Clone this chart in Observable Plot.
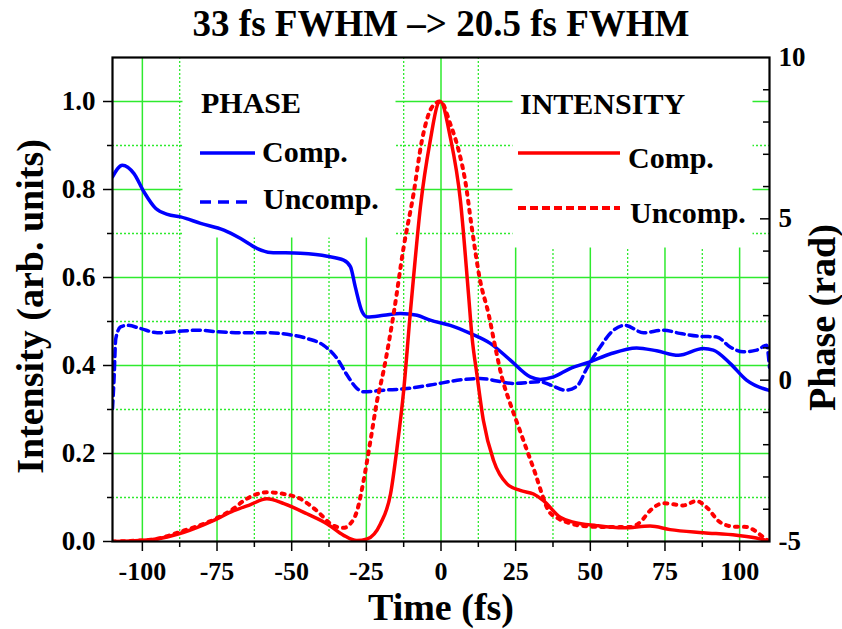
<!DOCTYPE html>
<html><head><meta charset="utf-8">
<script src="https://cdn.jsdelivr.net/npm/d3@7"></script>
<script src="https://cdn.jsdelivr.net/npm/@observablehq/plot@0.6"></script>
<style>html,body{margin:0;padding:0;background:#fff} svg{display:block}</style>
</head><body><div id="chart"></div>
<script>
// ---- data (time in fs, intensity in arb. units, phase in rad) ----
const phaseCompT = [-110,-106.7,-102.8,-99.5,-95.5,-91.6,-87.2,-80.5,-72.7,-67.1,-61.5,-57.1,-47.1,-38.1,-32.6,-30.3,-28.7,-26.4,-24.7,-19.2,-13.6,-8,-3.6,3.1,9.8,16.5,23.2,29.9,33.2,37.7,43.2,49.9,56.6,65.5,72.2,79.5,87.8,91.2,96.8,102.3,109.6,110];
const phaseCompV = [6.3,6.66,6.4,5.84,5.32,5.14,5.06,4.86,4.65,4.39,4.08,3.96,3.93,3.84,3.72,3.51,2.89,2.12,1.96,2.01,2.07,2.01,1.86,1.70,1.45,1.14,0.62,0.10,0.02,0.10,0.36,0.57,0.81,1.00,0.91,0.77,0.98,0.93,0.52,0,-0.31,-0.32];

const phaseUncompT = [-110,-109.5,-108.9,-107.3,-105,-100.6,-95,-89.4,-81.6,-74.9,-66,-58.2,-51.5,-44.8,-39.3,-34.8,-31.4,-28.1,-25.9,-19.2,-11.4,-3.6,7.6,13.1,24.3,33.2,36.6,41.6,45.5,48.8,53.3,57.2,61.6,67.8,74.4,80,86.7,92.3,96.8,101.2,105.7,109,110];
const phaseUncompV = [-0.88,0,1.29,1.65,1.70,1.60,1.47,1.50,1.55,1.50,1.47,1.47,1.42,1.29,1.08,0.67,0.15,-0.26,-0.36,-0.31,-0.26,-0.15,0.02,0.05,-0.10,-0.05,-0.15,-0.31,-0.19,0.36,1.03,1.50,1.70,1.47,1.55,1.45,1.36,1.34,1.03,0.88,0.93,1.08,0.4];

const intCompT = [-110,-97.2,-86.1,-76.1,-69.4,-63.8,-58.3,-52.6,-44.9,-38.1,-32.6,-28.2,-24.7,-20.3,-16.9,-14.7,-12.5,-10.3,-9.2,-6.9,-3.6,-0.8,-0.2,3.1,6.5,9.2,10.4,12,14.2,17.6,22.1,26.5,31,34.3,39.9,44.3,52.1,61.1,70,76.7,87.8,99,106.8,110];
const intCompV = [0,0.004,0.021,0.048,0.07,0.084,0.097,0.086,0.063,0.040,0.014,0.002,0.006,0.04,0.108,0.214,0.343,0.518,0.6,0.76,0.911,0.998,1.0,0.919,0.775,0.563,0.464,0.381,0.275,0.184,0.131,0.116,0.108,0.093,0.055,0.044,0.036,0.031,0.035,0.027,0.020,0.014,0.006,0];

const intUncompT = [-110,-97.2,-86,-76,-69.4,-66,-61.5,-58.2,-52.6,-47.1,-41.6,-36,-32.6,-30.4,-28.1,-25.9,-23.6,-21.4,-19.2,-15.8,-12.5,-9.2,-6.4,-4.1,-1.3,-0.2,3.1,5.9,8.1,10.3,13.1,15.9,18.2,20.4,23.2,26,28.8,31.6,33.8,36,38.8,42.1,46.6,54.4,63.3,66.7,70,74.5,81.1,85.6,88.9,93.4,97.9,102.3,105,107.9,110];
const intUncompV = [0,0.004,0.025,0.05,0.075,0.093,0.108,0.112,0.108,0.097,0.07,0.036,0.031,0.040,0.07,0.139,0.23,0.32,0.389,0.52,0.669,0.79,0.911,0.972,0.998,1.0,0.949,0.889,0.82,0.714,0.593,0.518,0.441,0.373,0.313,0.26,0.207,0.154,0.108,0.07,0.054,0.044,0.036,0.033,0.033,0.044,0.07,0.087,0.082,0.092,0.078,0.044,0.034,0.033,0.025,0.010,0];

// ---- ticks ----
const xMajorTicks = [-100,-75,-50,-25,0,25,50,75,100];
const xMinorTicks = [-87.5,-62.5,-37.5,-12.5,12.5,37.5,62.5,87.5];
const yMajorTicks = [0,0.2,0.4,0.6,0.8,1.0];
const yMinorTicks = [0.1,0.3,0.5,0.7,0.9];
const phaseLabelTicks = [-5,0,5,10];
const phaseMinorTicks = [-4,-3,-2,-1,1,2,3,4,6,7,8,9];

const titleText = "33 fs FWHM \u2013> 20.5 fs FWHM";
const xLabel = "Time (fs)";
const yLabel = "Intensity (arb. units)";
const y2Label = "Phase (rad)";

// ---- layout ----
const W = 842, H = 629, mL = 112, mR = 73, mT = 57, mB = 88;
const innerW = W - mL - mR;
const yMax = 1.1, pMin = -5, pMax = 10;
const toI = p => (p - pMin) / (pMax - pMin) * yMax;   // phase -> left scale
const toP = i => i / yMax * (pMax - pMin) + pMin;

const zip = (T, V) => T.map((t, i) => ({t, v: V[i]}));
const phaseComp = zip(phaseCompT, phaseCompV);
const phaseUncomp = zip(phaseUncompT, phaseUncompV);
const intComp = zip(intCompT, intCompV);
const intUncomp = zip(intUncompT, intUncompV);

const GREEN = "#2eea2e", BLUE = "#0000ff", RED = "#ff0000";
const FONT = "'Liberation Serif','Times New Roman',serif";

const svg = Plot.plot({
  width: W, height: H,
  marginLeft: mL, marginRight: mR, marginTop: mT, marginBottom: mB,
  x: {domain: [-110, 110]},
  y: {domain: [0, yMax]},
  style: {fontFamily: FONT, fontWeight: "bold", background: "white", color: "black"},
  marks: [
    // grid
    Plot.ruleX(xMinorTicks, {stroke: GREEN, strokeWidth: 1.3, strokeDasharray: "2,2"}),
    Plot.ruleY(yMinorTicks, {stroke: GREEN, strokeWidth: 1.3, strokeDasharray: "2,2"}),
    Plot.ruleX(xMajorTicks, {stroke: GREEN, strokeWidth: 1.5}),
    Plot.ruleY(yMajorTicks.slice(1), {stroke: GREEN, strokeWidth: 1.5}),
    // legend backgrounds
    Plot.frame({fill: "white", stroke: "none", insetLeft: 70, insetRight: 374, insetBottom: 304}),
    Plot.frame({fill: "white", stroke: "none", insetLeft: 400, insetRight: 17, insetBottom: 294}),
    // phase curves
    Plot.line(phaseUncomp, {x: "t", y: d => toI(d.v), stroke: BLUE, strokeWidth: 3.5, strokeDasharray: "8,5", curve: "monotone-x", clip: true}),
    Plot.line(phaseComp, {x: "t", y: d => toI(d.v), stroke: BLUE, strokeWidth: 3.5, curve: "monotone-x", clip: true}),
    // intensity curves
    Plot.line(intUncomp, {x: "t", y: "v", stroke: RED, strokeWidth: 4, strokeDasharray: "3,6", strokeLinecap: "round", curve: "monotone-x", clip: true}),
    Plot.line(intComp, {x: "t", y: "v", stroke: RED, strokeWidth: 3.5, curve: "monotone-x", clip: true}),
    // axes
    Plot.axisX(xMajorTicks, {tickSize: 10, tickPadding: 10, fontSize: 26, strokeWidth: 1.5, tickFormat: d => String(d), label: null}),
    Plot.axisX(xMinorTicks, {tickSize: 6, strokeWidth: 1.5, tickFormat: () => "", label: null}),
    Plot.axisY(yMajorTicks, {tickSize: 9, tickPadding: 8, fontSize: 27, strokeWidth: 1.5, tickFormat: d => d.toFixed(1), label: null}),
    Plot.axisY(yMinorTicks, {tickSize: 5, strokeWidth: 1.5, tickFormat: () => "", label: null}),
    Plot.axisY(phaseLabelTicks.map(toI), {anchor: "right", tickSize: 0, tickPadding: 9, fontSize: 27, tickFormat: d => String(Math.round(toP(d))), label: null}),
    Plot.ruleY(phaseLabelTicks.slice(1, 3).map(toI), {stroke: "black", strokeWidth: 1.5, insetLeft: innerW - 9}),
    Plot.ruleY(phaseMinorTicks.map(toI), {stroke: "black", strokeWidth: 1.5, insetLeft: innerW - 6}),
    Plot.frame({stroke: "black", strokeWidth: 2.2}),
    // titles
    Plot.text([titleText], {text: d => d, frameAnchor: "top", textAnchor: "middle", lineAnchor: "middle", dy: -33, fontSize: 37, fontWeight: "bold"}),
    Plot.text([xLabel], {text: d => d, frameAnchor: "bottom", textAnchor: "middle", lineAnchor: "middle", dy: 66, fontSize: 38, fontWeight: "bold"}),
    Plot.text([yLabel], {text: d => d, frameAnchor: "left", textAnchor: "middle", lineAnchor: "middle", rotate: -90, dx: -82, dy: 7, fontSize: 38, fontWeight: "bold"}),
    Plot.text([y2Label], {text: d => d, frameAnchor: "right", textAnchor: "middle", lineAnchor: "middle", rotate: -90, dx: 53, dy: 18, fontSize: 38, fontWeight: "bold"})
  ]
});

// ---- legend ----
const g = d3.select(svg).append("g")
  .attr("font-family", FONT).attr("font-weight", "bold").attr("font-size", 30)
  .attr("fill", "black").attr("text-anchor", "start");
const legendItems = [
  {type: "title", text: "PHASE", x: 201, y: 113},
  {type: "line", x1: 200, x2: 255, y: 153, stroke: BLUE, width: 3.5, dash: null},
  {type: "text", text: "Comp.", x: 262, y: 162},
  {type: "line", x1: 200, x2: 252, y: 202, stroke: BLUE, width: 3.5, dash: "11,7"},
  {type: "text", text: "Uncomp.", x: 263, y: 209},
  {type: "title", text: "INTENSITY", x: 520, y: 114},
  {type: "line", x1: 518, x2: 620, y: 153, stroke: RED, width: 3.5, dash: null},
  {type: "text", text: "Comp.", x: 628, y: 168},
  {type: "line", x1: 518, x2: 620, y: 208, stroke: RED, width: 4, dash: "8,4"},
  {type: "text", text: "Uncomp.", x: 630, y: 223}
];
for (const it of legendItems) {
  if (it.type === "line") {
    const l = g.append("line").attr("x1", it.x1).attr("x2", it.x2).attr("y1", it.y).attr("y2", it.y)
      .attr("stroke", it.stroke).attr("stroke-width", it.width);
    if (it.dash) l.attr("stroke-dasharray", it.dash);
  } else {
    g.append("text").attr("x", it.x).attr("y", it.y).attr("text-anchor", "start").text(it.text);
  }
}

document.getElementById("chart").appendChild(svg);
</script>
</body></html>
